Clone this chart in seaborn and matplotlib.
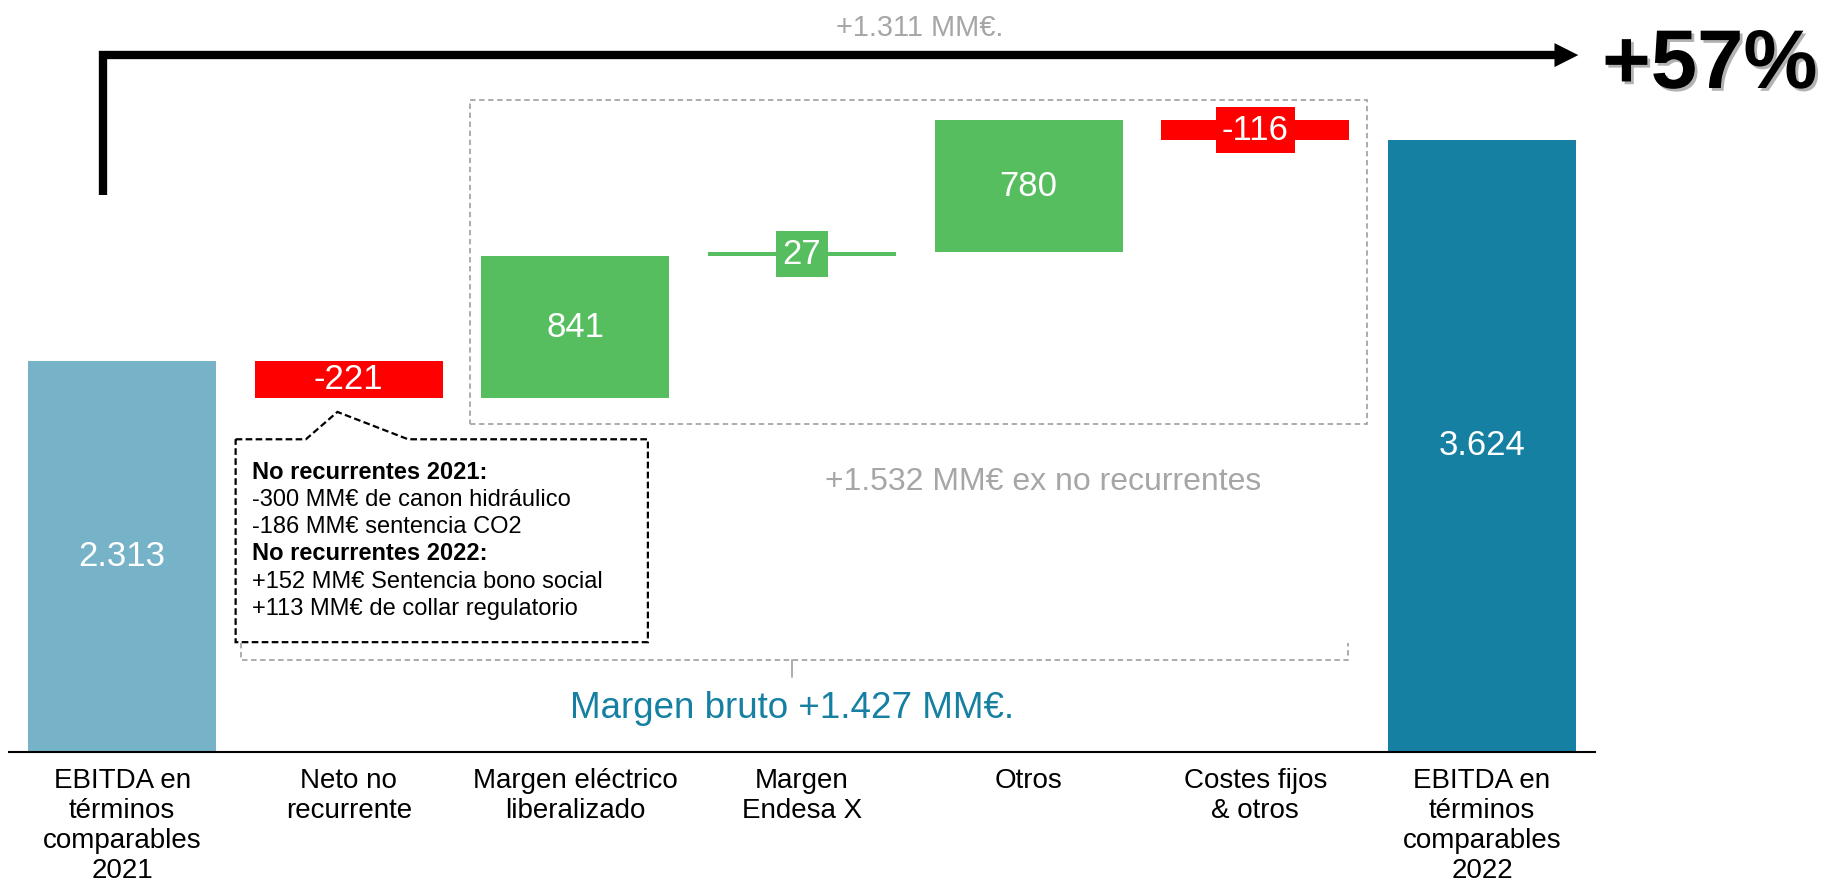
import matplotlib
matplotlib.use('Agg')
import matplotlib.pyplot as plt
from matplotlib import patheffects
from matplotlib.patches import Polygon, Rectangle
import pandas as pd
import seaborn as sns

# EBITDA bridge 2021 -> 2022 (MM€)
categories = [
    'EBITDA en\ntérminos\ncomparables\n2021',
    'Neto no\nrecurrente',
    'Margen eléctrico\nliberalizado',
    'Margen\nEndesa X',
    'Otros',
    'Costes fijos\n& otros',
    'EBITDA en\ntérminos\ncomparables\n2022',
]
values = [2313, -221, 841, 27, 780, -116, 3624]
kinds = ['total', 'delta', 'delta', 'delta', 'delta', 'delta', 'total']
bar_colors = ['#76B2C8', '#FF0000', '#56BE5E', '#56BE5E', '#56BE5E', '#FF0000', '#1680A3']

note_lines = [
    ('No recurrentes 2021:', 'bold'),
    ('-300 MM€ de canon hidráulico', 'normal'),
    ('-186 MM€ sentencia CO2', 'normal'),
    ('No recurrentes 2022:', 'bold'),
    ('+152 MM€ Sentencia bono social', 'normal'),
    ('+113 MM€ de collar regulatorio', 'normal'),
]

GREY = '#A6A6A6'
TEAL = '#1680A3'


def es(v):
    # spanish thousands separator
    return f"{v:,}".replace(',', '.')


def waterfall(values, kinds):
    bottoms, heights = [], []
    running = 0
    for v, k in zip(values, kinds):
        if k == 'total':
            bottoms.append(0)
            heights.append(v)
            running = v
        else:
            start = running
            running += v
            bottoms.append(min(start, running))
            heights.append(abs(v))
    return bottoms, heights


sns.set_style('white')
plt.rcParams['font.family'] = ['Liberation Sans', 'DejaVu Sans']

bottoms, heights = waterfall(values, kinds)
df = pd.DataFrame({'cat': categories, 'height': heights, 'bottom': bottoms})

fig = plt.figure(figsize=(18.24, 8.93), dpi=100)
ax = fig.add_axes([0.0048, 0.1584, 0.8698, 0.8317])

sns.barplot(data=df, x='cat', y='height', order=categories, bottom=df['bottom'].to_numpy(),
            width=0.83, errorbar=None, saturation=1, color=bar_colors[0], linewidth=0, ax=ax)
for patch, c in zip(ax.patches, bar_colors):
    patch.set_facecolor(c)

labels = [es(v) for v in values]
texts = ax.bar_label(ax.containers[0], labels=labels, label_type='center',
                     color='white', fontsize=25)
# small bars get a coloured box behind the number
for t, h, c in zip(texts, heights, bar_colors):
    if h < 150:
        t.set_bbox(dict(boxstyle='square,pad=0.18', fc=c, ec='none'))

ax.set_xlim(-0.5, 6.5)
ax.set_ylim(0, 4400)
ax.set_xlabel('')
ax.set_ylabel('')
ax.set_yticks([])
ax.tick_params(axis='x', length=0, pad=12, labelsize=20, colors='black')
for lab in ax.get_xticklabels():
    lab.set_linespacing(1.19)
sns.despine(ax=ax, left=True)
ax.spines['bottom'].set_color('black')
ax.spines['bottom'].set_linewidth(1.5)

# growth arrow
total_growth = values[-1] - values[0]
ax.plot([-0.082, -0.082, 6.33], [3297, 4126, 4126], color='black', lw=6,
        solid_joinstyle='miter', solid_capstyle='butt', clip_on=False)
ax.add_patch(Polygon([(6.32, 4197), (6.425, 4126), (6.32, 4055)], closed=True,
                     fc='black', ec='none', clip_on=False))
ax.text(3.52, 4240, f"+{es(total_growth)} MM€.", ha='center', va='baseline',
        fontsize=20.8, color=GREY)
ax.text(6.53, 3931, f"+{round(100 * total_growth / values[0])}%", ha='left', va='baseline',
        fontsize=60, fontweight='bold', color='black',
        path_effects=[patheffects.withSimplePatchShadow(offset=(2, -2), shadow_rgbFace='0.4', alpha=0.5)])

# dashed box around the recurring items
ax.add_patch(Rectangle((1.535, 1940), 5.495 - 1.535, 3859 - 1940, fill=False,
                       ec=GREY, lw=1.3, ls=(0, (3, 2))))
ex_nr = sum(values[2:6])
ax.text(4.064, 1551, f"+{es(ex_nr)} MM€ ex no recurrentes", ha='center', va='baseline',
        fontsize=23, color=GREY)

# bracket for gross margin
ax.plot([0.524, 0.524, 5.41, 5.41], [641, 544, 544, 641], color=GREY, lw=1.3, ls=(0, (3, 2)))
ax.plot([2.957, 2.957], [544, 441], color=GREY, lw=1.3)
margin = sum(values[1:5])
ax.text(2.957, 200, f"Margen bruto +{es(margin)} MM€.", ha='center', va='baseline',
        fontsize=26.5, color=TEAL)

# call-out with non recurring detail
ax.add_patch(Polygon([(0.501, 1850), (0.811, 1850), (0.950, 2012), (1.262, 1850),
                      (2.320, 1850), (2.320, 648), (0.501, 648)], closed=True,
                     fc='white', ec='black', lw=1.6, ls=(0, (3, 1.5))))
y = 1615
for txt, weight in note_lines:
    ax.text(0.572, y, txt, ha='left', va='baseline', fontsize=17, fontweight=weight, color='black')
    y -= 161

fig.savefig('out.png', dpi=100)
